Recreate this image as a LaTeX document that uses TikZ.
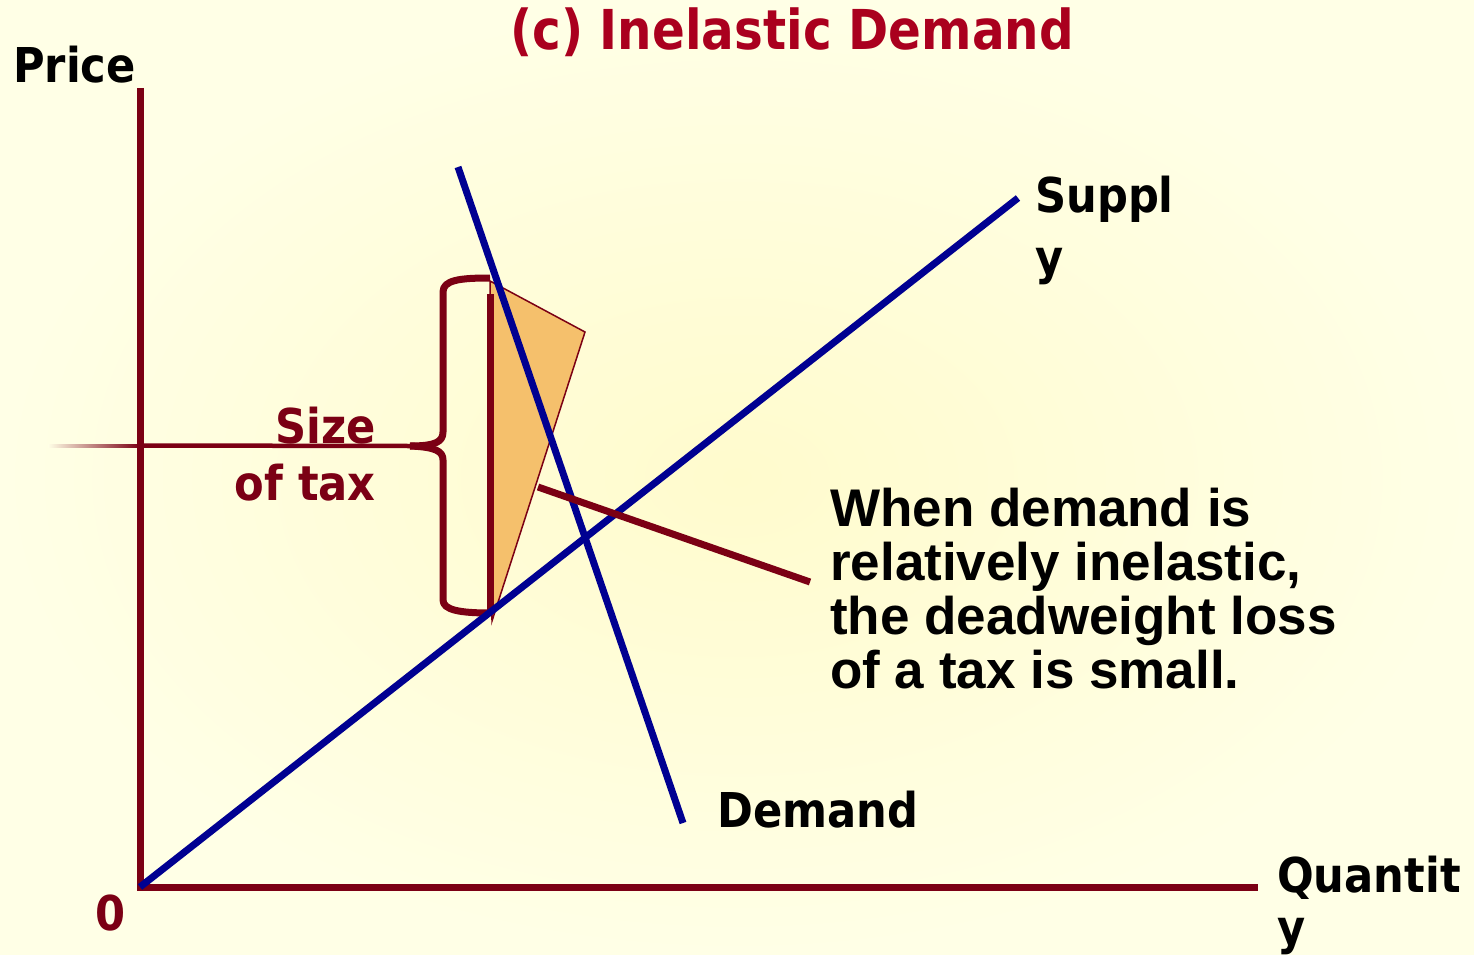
\documentclass[tikz,border=0pt]{standalone}
\usepackage{fontspec}
\setmainfont{DejaVu Sans}
\newfontfamily\tahomaish[FakeStretch=0.9]{DejaVu Sans}
\newfontfamily\titlefont[FakeStretch=0.88]{DejaVu Sans}
\newfontfamily\arialish{Liberation Sans}
\definecolor{axisred}{RGB}{123,0,20}
\definecolor{titlered}{RGB}{170,0,30}
\definecolor{lineblue}{RGB}{0,0,145}
\definecolor{dwl}{RGB}{245,192,108}
\definecolor{bgin}{RGB}{255,251,205}
\definecolor{bgout}{RGB}{255,255,230}
\tikzset{
  lbl/.style={inner sep=0pt, font=\tahomaish\fontsize{48}{55}\selectfont\bfseries},
  notelbl/.style={inner sep=0pt, font=\arialish\fontsize{53}{54}\selectfont\bfseries},
  axisline/.style={draw=axisred, line width=7pt},
  curve/.style={draw=lineblue, line width=7pt},
}
\begin{document}
\begin{tikzpicture}[x=1pt,y=-1pt]
\useasboundingbox (0,0) rectangle (1474,955);
\shade[inner color=bgin, outer color=bgout] (0,0) rectangle (1474,955);
% coordinates
\coordinate (O) at (140,887);
\coordinate (ytop) at (140,88);
\coordinate (xend) at (1258,887);
\coordinate (s1) at (140,887);
\coordinate (s2) at (1018,198);
\coordinate (d1) at (458,167);
\coordinate (d2) at (683,823);
\coordinate (t1) at (490,281);
\coordinate (t2) at (585,332);
\coordinate (t3) at (492,621);
\coordinate (v1) at (490,294);
\coordinate (v2) at (490,612);
\coordinate (a1) at (538,487);
\coordinate (a2) at (810,582);
\coordinate (tip) at (410,446);
% deadweight triangle
\path[fill=dwl, draw=axisred, line width=1.5pt] (t1) -- (t2) -- (t3) -- cycle;
\draw[axisline] (v1) -- (v2);
% brace
\draw[axisred, line width=7pt, line join=round]
  (490,278) .. controls (460,278) and (443,280) .. (443,292)
  -- (443,432) .. controls (443,442) and (435,446) .. (tip);
\draw[axisred, line width=7pt, line join=round]
  (tip) .. controls (435,447) and (443,451) .. (443,460)
  -- (443,600) .. controls (443,610) and (460,613) .. (490,613);
\draw[axisred, line width=4.5pt] (tip) -- (140,445.5);
\shade[left color=bgout, right color=axisred] (48,444.6) rectangle (140,447.2);
% axes
\draw[axisline] (ytop) -- (O) -- (xend);
% supply and demand
\draw[curve] (s1) -- (s2);
\draw[curve] (d1) -- (d2);
% annotation pointer
\draw[axisline] (a1) -- (a2);
% labels
\node[lbl, anchor=base west, text=titlered, font=\titlefont\fontsize{55}{60}\selectfont\bfseries] (title) at (510,50) {(c) Inelastic Demand};
\node[lbl, anchor=base west] (price) at (13,83) {Price};
\node[lbl, anchor=base west, align=left, font=\tahomaish\fontsize{48}{62}\selectfont\bfseries] (supply) at (1035,274) {Suppl\\y};
\node[lbl, anchor=base west] (demand) at (717,827) {Demand};
\node[lbl, anchor=base west, align=left, font=\tahomaish\fontsize{48}{52}\selectfont\bfseries] (qty) at (1277,944) {Quantit\\y};
\node[lbl, anchor=base west, text=axisred] (zero) at (95,930) {0};
\node[lbl, anchor=base east, align=right, text=axisred, font=\tahomaish\fontsize{48}{57}\selectfont\bfseries] (size) at (376,500) {Size\\of tax};
\node[notelbl, anchor=base west, align=left] (note) at (830,688) {When demand is\\relatively inelastic,\\the deadweight loss\\of a tax is small.};
\end{tikzpicture}
\end{document}
